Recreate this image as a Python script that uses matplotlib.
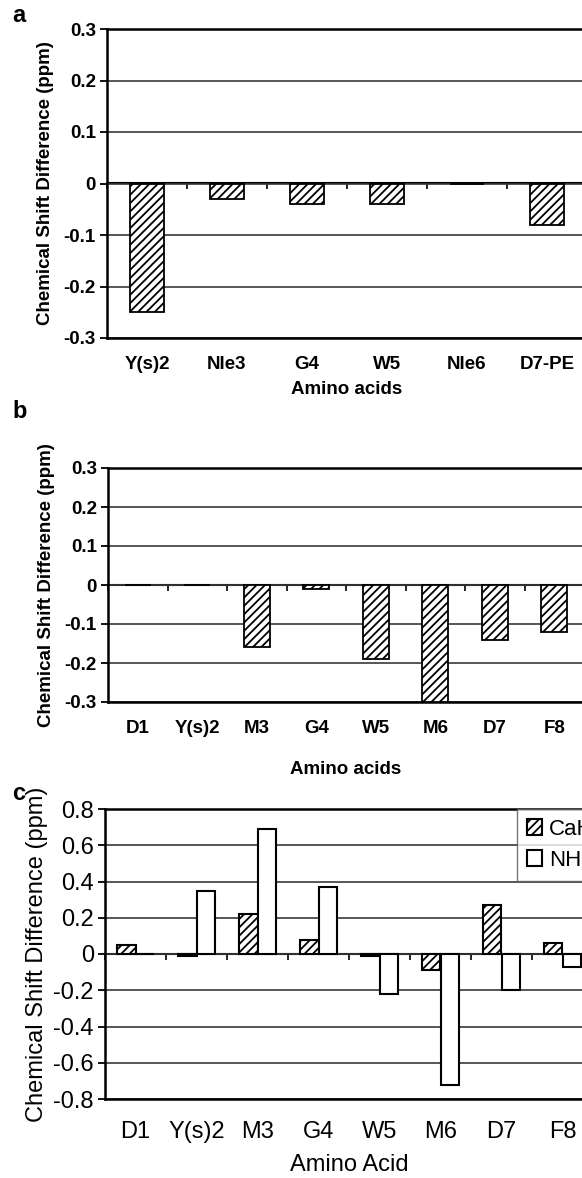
import numpy as np
import matplotlib
matplotlib.use("Agg")
import matplotlib.pyplot as plt

plt.rcParams['font.family'] = ['Liberation Sans', 'DejaVu Sans']
plt.rcParams['hatch.linewidth'] = 1.3

# panel a
a_labels = ["Y(s)2", "Nle3", "G4", "W5", "Nle6", "D7-PE"]
a_vals = [-0.25, -0.03, -0.04, -0.04, 0.0, -0.08]
a_yticks = [0.3, 0.2, 0.1, 0, -0.1, -0.2, -0.3]

# panel b
b_labels = ["D1", "Y(s)2", "M3", "G4", "W5", "M6", "D7", "F8"]
b_vals = [0.0, 0.0, -0.16, -0.01, -0.19, -0.30, -0.14, -0.12]
b_yticks = [0.3, 0.2, 0.1, 0, -0.1, -0.2, -0.3]

# panel c
c_labels = ["D1", "Y(s)2", "M3", "G4", "W5", "M6", "D7", "F8"]
c_cah = [0.05, -0.01, 0.22, 0.08, -0.01, -0.09, 0.27, 0.06]
c_nh = [0.0, 0.35, 0.69, 0.37, -0.22, -0.72, -0.20, -0.07]
c_yticks = [0.8, 0.6, 0.4, 0.2, 0, -0.2, -0.4, -0.6, -0.8]

W, H = 582, 1178
fig = plt.figure(figsize=(W / 100, H / 100), dpi=100)


def add_ax(left, right, top, bottom):
    return fig.add_axes([left / W, 1 - bottom / H, (right - left) / W, (bottom - top) / H])


def style(ax, labels, yticks, fs, weight, ylabel, xlabel, ylabelpad, xlabelpad, tickpad):
    n = len(labels)
    ax.set_xlim(-0.5, n - 0.5)
    ax.set_ylim(min(yticks), max(yticks))
    ax.set_yticks(yticks)
    ax.set_yticklabels([f"{v:g}" for v in yticks], fontsize=fs, fontweight=weight)
    ax.set_xticks(range(n))
    ax.set_xticklabels(labels, fontsize=fs, fontweight=weight)
    ax.tick_params(axis='x', length=0, pad=tickpad)
    ax.tick_params(axis='y', direction='out', length=5, width=1.3, pad=3)
    ax.yaxis.grid(True, color='#3a3a3a', linewidth=1.2)
    ax.set_axisbelow(True)
    for s in ax.spines.values():
        s.set_linewidth(1.8)
        s.set_color('black')
    ax.set_ylabel(ylabel, fontsize=fs, fontweight=weight, labelpad=ylabelpad)
    ax.set_xlabel(xlabel, fontsize=fs, fontweight=weight, labelpad=xlabelpad)
    # category axis crossing at zero with tick marks between categories
    sec = ax.secondary_xaxis(0.5)
    sec.set_alignment('top')
    sec.set_xticks(np.arange(n + 1) - 0.5)
    sec.tick_params(axis='x', direction='in', length=4, width=1.2,
                    labeltop=False, labelbottom=False)
    for s in sec.spines.values():
        s.set_linewidth(1.5)
        s.set_color('black')


# a
ax = add_ax(107, 587, 29, 338)
ax.bar(range(len(a_vals)), a_vals, width=0.42, color='white', edgecolor='black',
       hatch='////', linewidth=1.3, zorder=3)
style(ax, a_labels, a_yticks, 13.5, 'bold', "Chemical Shift Difference (ppm)",
      "Amino acids", 7, 6, 13)

# b
ax = add_ax(108, 584, 468, 702)
ax.bar(range(len(b_vals)), b_vals, width=0.44, color='white', edgecolor='black',
       hatch='////', linewidth=1.3, zorder=3)
style(ax, b_labels, b_yticks, 13.5, 'bold', "Chemical Shift Difference (ppm)",
      "Amino acids", 7, 17, 13)

# c
ax = add_ax(105, 593, 809, 1099)
x = np.arange(len(c_labels))
ax.bar(x - 0.15, c_cah, width=0.3, color='white', edgecolor='black',
       hatch='////', linewidth=1.5, zorder=3, label='CaH')
ax.bar(x + 0.15, c_nh, width=0.3, color='white', edgecolor='black',
       linewidth=1.5, zorder=3, label='NH')
style(ax, c_labels, c_yticks, 17, 'normal', "Chemical Shift Difference (ppm)",
      "Amino Acid", 4, 8, 16)
leg = ax.legend(loc='upper left', bbox_to_anchor=(0.844, 1.0), borderaxespad=0,
                fontsize=16, frameon=True, fancybox=False, handlelength=0.7,
                handleheight=0.7, handletextpad=0.3, labelspacing=0.45,
                borderpad=0.45)
leg.get_frame().set_edgecolor('#555555')
leg.get_frame().set_linewidth(1.0)
leg.set_zorder(5)

fig.text(12 / W, 1 - 16 / H, "a", fontsize=17, fontweight='bold', va='center')
fig.text(12 / W, 1 - 411 / H, "b", fontsize=17, fontweight='bold', va='center')
fig.text(12 / W, 1 - 793 / H, "c", fontsize=17, fontweight='bold', va='center')

fig.savefig("out.png", dpi=100)
